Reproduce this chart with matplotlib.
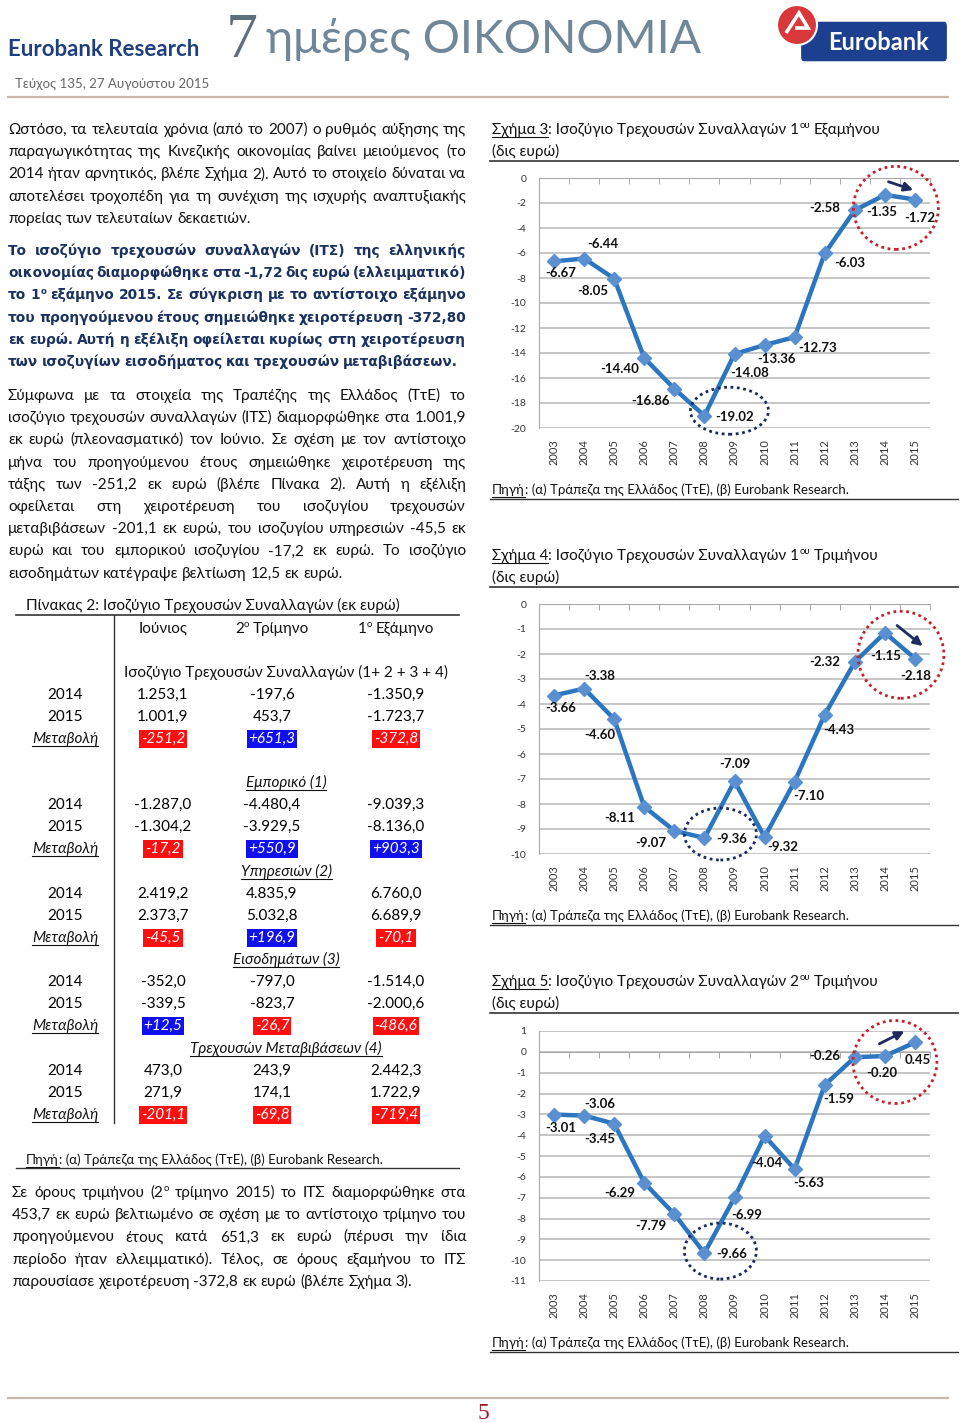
import numpy as np
import matplotlib
matplotlib.use('Agg')
import matplotlib.pyplot as plt
from matplotlib.lines import Line2D
from matplotlib.patches import Ellipse, FancyBboxPatch, Polygon

plt.rcParams['font.family'] = ['Lato', 'DejaVu Sans']
plt.rcParams['savefig.dpi'] = 100

W, H = 960, 1423

# ---- δεδομένα διαγραμμάτων (δις ευρώ) ----
years = ['2003', '2004', '2005', '2006', '2007', '2008', '2009',
         '2010', '2011', '2012', '2013', '2014', '2015']
its_h1 = [-6.67, -6.44, -8.05, -14.40, -16.86, -19.02, -14.08,
          -13.36, -12.73, -6.03, -2.58, -1.35, -1.72]
its_q1 = [-3.66, -3.38, -4.60, -8.11, -9.07, -9.36, -7.09,
          -9.32, -7.10, -4.43, -2.32, -1.15, -2.18]
its_q2 = [-3.01, -3.06, -3.45, -6.29, -7.79, -9.66, -6.99,
          -4.04, -5.63, -1.59, -0.26, -0.20, 0.45]

# ---- Πίνακας 2 (εκ ευρώ) ----
table_cols = ['Ιούνιος', '2^ο Τρίμηνο', '1^ο Εξάμηνο']
table_sections = ['Ισοζύγιο Τρεχουσών Συναλλαγών (1+ 2 + 3 + 4)', 'Εμπορικό (1)',
                  'Υπηρεσιών (2)', 'Εισοδημάτων (3)', 'Τρεχουσών Μεταβιβάσεων (4)']
vals_2014 = [['1.253,1', '-197,6', '-1.350,9'],
             ['-1.287,0', '-4.480,4', '-9.039,3'],
             ['2.419,2', '4.835,9', '6.760,0'],
             ['-352,0', '-797,0', '-1.514,0'],
             ['473,0', '243,9', '2.442,3']]
vals_2015 = [['1.001,9', '453,7', '-1.723,7'],
             ['-1.304,2', '-3.929,5', '-8.136,0'],
             ['2.373,7', '5.032,8', '6.689,9'],
             ['-339,5', '-823,7', '-2.000,6'],
             ['271,9', '174,1', '1.722,9']]
vals_change = [['-251,2', '+651,3', '-372,8'],
               ['-17,2', '+550,9', '+903,3'],
               ['-45,5', '+196,9', '-70,1'],
               ['+12,5', '-26,7', '-486,6'],
               ['-201,1', '-69,8', '-719,4']]

# ---- κείμενα ----
par1 = ['Ωστόσο, τα τελευταία χρόνια (από το 2007) ο ρυθμός αύξησης της',
        'παραγωγικότητας της Κινεζικής οικονομίας βαίνει μειούμενος (το',
        '2014 ήταν αρνητικός, βλέπε Σχήμα 2). Αυτό το στοιχείο δύναται να',
        'αποτελέσει τροχοπέδη για τη συνέχιση της ισχυρής αναπτυξιακής',
        'πορείας των τελευταίων δεκαετιών.']
par2 = ['Το ισοζύγιο τρεχουσών συναλλαγών (ΙΤΣ) της ελληνικής',
        'οικονομίας διαμορφώθηκε στα -1,72 δις ευρώ (ελλειμματικό)',
        'το 1^ο εξάμηνο 2015. Σε σύγκριση με το αντίστοιχο εξάμηνο',
        'του προηγούμενου έτους σημειώθηκε χειροτέρευση -372,80',
        'εκ ευρώ. Αυτή η εξέλιξη οφείλεται κυρίως στη χειροτέρευση',
        'των ισοζυγίων εισοδήματος και τρεχουσών μεταβιβάσεων.']
par3 = ['Σύμφωνα με τα στοιχεία της Τραπέζης της Ελλάδος (ΤτΕ) το',
        'ισοζύγιο τρεχουσών συναλλαγών (ΙΤΣ) διαμορφώθηκε στα 1.001,9',
        'εκ ευρώ (πλεονασματικό) τον Ιούνιο. Σε σχέση με τον αντίστοιχο',
        'μήνα του προηγούμενου έτους σημειώθηκε χειροτέρευση της',
        'τάξης των -251,2 εκ ευρώ (βλέπε Πίνακα 2). Αυτή η εξέλιξη',
        'οφείλεται στη χειροτέρευση του ισοζυγίου τρεχουσών',
        'μεταβιβάσεων -201,1 εκ ευρώ, του ισοζυγίου υπηρεσιών -45,5 εκ',
        'ευρώ και του εμπορικού ισοζυγίου -17,2 εκ ευρώ. Το ισοζύγιο',
        'εισοδημάτων κατέγραψε βελτίωση 12,5 εκ ευρώ.']
par4 = ['Σε όρους τριμήνου (2^ο τρίμηνο 2015) το ΙΤΣ διαμορφώθηκε στα',
        '453,7 εκ ευρώ βελτιωμένο σε σχέση με το αντίστοιχο τρίμηνο του',
        'προηγούμενου έτους κατά 651,3 εκ ευρώ (πέρυσι την ίδια',
        'περίοδο ήταν ελλειμματικό). Τέλος, σε όρους εξαμήνου το ΙΤΣ',
        'παρουσίασε χειροτέρευση -372,8 εκ ευρώ (βλέπε Σχήμα 3).']
source = ': (α) Τράπεζα της Ελλάδος (ΤτΕ), (β) Eurobank Research.'

fig = plt.figure(figsize=(W / 100, H / 100), dpi=100)
renderer = fig.canvas.get_renderer()


def fx(x):
    return x / W


def fy(y):
    return 1 - y / H


def width(s, **kw):
    t = fig.text(0, 0, '|' + s + '|', **kw)
    w = t.get_window_extent(renderer).width
    t.remove()
    t = fig.text(0, 0, '||', **kw)
    w -= t.get_window_extent(renderer).width
    t.remove()
    return w


def hline(x0, x1, y, color='#333333', lw=1.0):
    fig.add_artist(Line2D([fx(x0), fx(x1)], [fy(y), fy(y)],
                          transform=fig.transFigure, color=color, lw=lw))


def runs(x, y, parts, ha='left', **base):
    """κείμενο σε κομμάτια: υπογράμμιση (ul) και εκθέτες (sup)"""
    items = []
    total = 0
    for s, opt in parts:
        kw = dict(base)
        kw.update({k: v for k, v in opt.items() if k not in ('ul', 'sup')})
        if opt.get('sup'):
            kw['fontsize'] = kw['fontsize'] * 0.62
        lead = len(s) - len(s.lstrip(' '))
        w = width(s, **kw)
        lead_w = width(' ' * lead, **kw) if lead else 0
        items.append((s.strip(' '), kw, w, lead_w, opt))
        total += w
    if ha == 'center':
        x -= total / 2
    for s, kw, w, lead_w, opt in items:
        rise = base['fontsize'] * 100 / 72 * 0.38 if opt.get('sup') else 0
        fig.text(fx(x + lead_w), fy(y - rise), s, va='baseline', ha='left', **kw)
        if opt.get('ul'):
            hline(x + lead_w, x + lead_w + width(s, **kw), y + 2.5,
                  color=kw.get('color', 'black'), lw=0.8)
        x += w
    return total


def word_parts(word):
    if '^' in word:
        a, b = word.split('^', 1)
        return [(a, {}), (b, {'sup': True})]
    return [(word, {})]


def word_width(word, **kw):
    total = 0
    for s, opt in word_parts(word):
        k = dict(kw)
        if opt.get('sup'):
            k['fontsize'] = k['fontsize'] * 0.62
        total += width(s, **k)
    return total


def paragraph(x0, x1, y0, lines, lh, last_gap=1.0, **kw):
    sp = width(' ', **kw)
    for k, line in enumerate(lines):
        y = y0 + k * lh
        words = line.split()
        ws = [word_width(w, **kw) for w in words]
        if k == len(lines) - 1:
            gap = sp * last_gap
        else:
            gap = (x1 - x0 - sum(ws)) / (len(words) - 1)
        x = x0
        for w, wd in zip(words, ws):
            runs(x, y, word_parts(w), **kw)
            x += wd + gap


# ---- κεφαλίδα ----
hdr_blue = '#1f3f7e'
fig.text(fx(8), fy(56), 'Eurobank Research', fontsize=16, fontweight='bold',
         color=hdr_blue, va='baseline')
fig.text(fx(226), fy(57), '7', fontsize=46, family='Liberation Serif',
         color='#5d6e7c', va='baseline')
fig.text(fx(266), fy(53), 'ημέρες ΟΙΚΟΝΟΜΙΑ', fontsize=33.5, fontweight='normal',
         color='#6f8799', va='baseline')
fig.text(fx(15), fy(88), 'Τεύχος 135, 27 Αυγούστου 2015', fontsize=9.5,
         color='#666666', va='baseline')
hline(8, 948, 97, color='#c9b7ae', lw=1.6)

fig.add_artist(FancyBboxPatch((fx(804), fy(57)), fx(944) - fx(804), fy(26) - fy(57),
                              boxstyle='round,pad=0.003', transform=fig.transFigure,
                              fc='#1d3f8f', ec='none'))
fig.add_artist(Ellipse((fx(797), fy(25)), 40 / W, 40 / H, transform=fig.transFigure,
                       fc='#d9383b', ec='white', lw=1.5))
fig.add_artist(Polygon([(fx(786), fy(33)), (fx(799), fy(13)), (fx(808), fy(28)),
                        (fx(795), fy(28))], closed=False, fill=False,
                       transform=fig.transFigure, ec='white', lw=2.6))
fig.text(fx(879), fy(50), 'Eurobank', fontsize=17, fontweight='bold', color='white',
         ha='center', va='baseline')

# ---- αριστερή στήλη: κείμενο ----
paragraph(8, 466, 134, par1, 22.2, fontsize=11, color='#111111')
paragraph(8, 466, 255, par2, 22.2, last_gap=0.7, fontsize=9.9, color='#1b3260',
          family=['DejaVu Sans'], fontweight='bold')
paragraph(8, 466, 400, par3, 22.2, fontsize=11, color='#111111')
paragraph(12, 466, 1197, par4, 22.2, fontsize=11, color='#111111')

# ---- Πίνακας 2 ----
fig.text(fx(26), fy(610), 'Πίνακας 2: Ισοζύγιο Τρεχουσών Συναλλαγών (εκ ευρώ)',
         fontsize=11, color='#111111', va='baseline')
hline(16, 459, 615, lw=1.2)
fig.add_artist(Line2D([fx(114), fx(114)], [fy(615), fy(1123)],
                      transform=fig.transFigure, color='#333333', lw=1.0))
col_x = [163, 272, 396]
for cx, name in zip(col_x, table_cols):
    if ' ' in name:
        head, rest = name.split(' ', 1)
        parts = word_parts(head) + [(' ' + rest, {})]
    else:
        parts = [(name, {})]
    runs(cx, 633, parts, ha='center', fontsize=11, color='#111111')

sec_y = [677, 787, 876, 964, 1053]
for sname, sy, r14, r15, rch in zip(table_sections, sec_y, vals_2014, vals_2015, vals_change):
    first = sname == table_sections[0]
    runs(286, sy, [(sname, {} if first else {'ul': True, 'style': 'italic'})],
         ha='center', fontsize=11, color='#111111')
    for k, (lab, row) in enumerate([('2014', r14), ('2015', r15)]):
        yy = sy + 22 * (k + 1)
        fig.text(fx(65), fy(yy), lab, fontsize=11, ha='center', va='baseline')
        for cx, v in zip(col_x, row):
            fig.text(fx(cx), fy(yy), v, fontsize=11, ha='center', va='baseline')
    yy = sy + 66
    runs(65, yy, [('Μεταβολή', {'ul': True, 'style': 'italic'})], ha='center',
         fontsize=11, color='#111111')
    for cx, v in zip(col_x, rch):
        fc = '#ff1010' if v.startswith('-') else '#1010ee'
        fig.text(fx(cx), fy(yy), v, fontsize=11, style='italic', color='white',
                 ha='center', va='baseline',
                 bbox=dict(boxstyle='square,pad=0.12', fc=fc, ec='none'))

runs(26, 1164, [('Πηγή', {'ul': True}), (source, {})], fontsize=9.5, color='#111111')
hline(16, 459, 1168, lw=1.0)

# ---- δεξιά στήλη: διαγράμματα ----
line_c = '#2c76c0'
mark_c = '#5a8fd0'
red_c = '#c8202c'
navy_c = '#1c2a60'

lab3 = [(7, 12), (19, -14), (-21, 12), (-25, 11), (-24, 12), (30, 1), (15, 19),
        (12, 14), (23, 11), (25, 10), (-30, -2), (-3, 17), (5, 18)]
lab4 = [(7, 13), (16, -12), (-14, 16), (-25, 11), (-24, 12), (27, 1), (0, -17),
        (18, 10), (14, 15), (14, 15), (-30, 0), (1, 23), (1, 18)]
lab5 = [(7, 13), (16, -12), (-14, 15), (-25, 10), (-24, 12), (27, 1), (12, 18),
        (2, 27), (14, 14), (14, 14), (-30, -1), (-3, 17), (3, 18)]

charts = [
    dict(vals=its_h1, top=178, bot=428, ylim=(-20, 0), yt=np.arange(0, -21, -2), labs=lab3,
         red=(11, 13, 85, 83), navy=(25, -5, 78, 47), arrow=((1, -14), (31, -4)),
         title=('Σχήμα 3', ': Ισοζύγιο Τρεχουσών Συναλλαγών 1', ' Εξαμήνου'), ty=134),
    dict(vals=its_q1, top=604, bot=854, ylim=(-10, 0), yt=np.arange(0, -11, -1), labs=lab4,
         red=(16, 22, 86, 87), navy=(16, -4, 72, 52), arrow=((10, -9), (40, 15)),
         title=('Σχήμα 4', ': Ισοζύγιο Τρεχουσών Συναλλαγών 1', ' Τριμήνου'), ty=560),
    dict(vals=its_q2, top=1031, bot=1281, ylim=(-11, 1), yt=np.arange(1, -12, -1), labs=lab5,
         red=(10, 6, 84, 83), navy=(16, -2, 72, 56), arrow=((-8, -11), (22, -26)),
         title=('Σχήμα 5', ': Ισοζύγιο Τρεχουσών Συναλλαγών 2', ' Τριμήνου'), ty=986),
]

for c in charts:
    t = c['title']
    runs(492, c['ty'], [(t[0], {'ul': True}), (t[1], {}), ('ου', {'sup': True}), (t[2], {})],
         fontsize=11, color='#111111')
    fig.text(fx(492), fy(c['ty'] + 22), '(δις ευρώ)', fontsize=11, color='#111111',
             va='baseline')
    hline(490, 958, c['ty'] + 27, lw=1.2)

    ax = fig.add_axes([fx(539), fy(c['bot']), (930 - 539) / W, (c['bot'] - c['top']) / H])
    ax.spines['top'].set_position(('data', 0))
    x = np.arange(len(years))
    vals = c['vals']
    ax.plot(x, vals, color=line_c, lw=3.2, zorder=3)
    ax.plot(x, vals, ls='none', marker='D', ms=7.5, mfc=mark_c, mec=mark_c, zorder=4)
    for i, (v, (dx, dy)) in enumerate(zip(vals, c['labs'])):
        ax.annotate(f'{v:.2f}', (i, v), xytext=(dx, -dy), textcoords='offset pixels',
                    ha='center', va='center', fontsize=9.5, fontweight='bold',
                    color='#111111', zorder=5)
    ax.set_xlim(-0.5, 12.5)
    ax.set_ylim(c['ylim'])
    ax.set_yticks(c['yt'])
    ax.set_yticklabels([f'{v:g}' for v in c['yt']])
    ax.grid(axis='y', color='#c2c2c2', lw=1.3)
    ax.set_axisbelow(True)
    ax.set_xticks(x)
    ax.set_xticklabels(years)
    ax.set_xticks(np.arange(-0.5, 13, 1), minor=True)
    ax.tick_params(axis='x', which='major', length=0, pad=8, labelsize=8,
                   labelcolor='#333333', labelrotation=90)
    ax.tick_params(axis='x', which='minor', bottom=False, top=True, direction='in',
                   length=4, color='#999999')
    ax.tick_params(axis='y', length=0, pad=9, labelsize=7.5, labelcolor='#333333')
    for s in ['right', 'bottom']:
        ax.spines[s].set_visible(False)
    ax.spines['top'].set_color('#aaaaaa')
    ax.spines['left'].set_color('#aaaaaa')

    # σημειώσεις: κύκλοι και βέλος
    fig.canvas.draw()
    bb = ax.get_window_extent(renderer)
    ppx = bb.width / 13
    ppy = bb.height / (c['ylim'][1] - c['ylim'][0])
    for (anchor, spec, col) in [(11, c['red'], red_c), (5, c['navy'], navy_c)]:
        dx, dy, w, h = spec
        ax.add_patch(Ellipse((anchor + dx / ppx, vals[anchor] - dy / ppy), w / ppx, h / ppy,
                             fill=False, ls=(0, (1, 1.3)), lw=2, ec=col, clip_on=False,
                             zorder=6))
    (sx, sy), (ex, ey) = c['arrow']
    ax.annotate('', xy=(11 + ex / ppx, vals[11] - ey / ppy),
                xytext=(11 + sx / ppx, vals[11] - sy / ppy),
                arrowprops=dict(arrowstyle='-|>', color=navy_c, lw=2, mutation_scale=13),
                annotation_clip=False)

    runs(492, c['bot'] + 66, [('Πηγή', {'ul': True}), (source, {})], fontsize=9.5,
         color='#111111')
    hline(490, 958, c['bot'] + 71, lw=1.0)

# ---- υποσέλιδο ----
hline(8, 948, 1398, color='#c9b7ae', lw=1.6)
fig.text(fx(483), fy(1419), '5', fontsize=17, family='Liberation Serif', color='#a3192b',
         ha='center', va='baseline')

fig.savefig('out.png', dpi=100)
